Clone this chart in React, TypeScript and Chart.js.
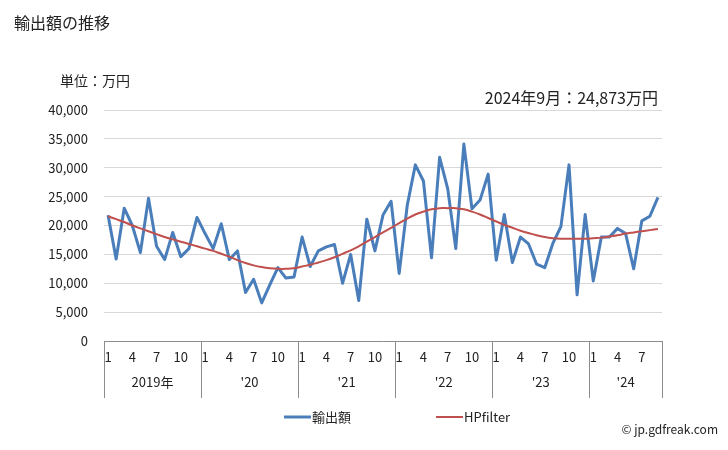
import React, { useEffect, useRef } from "react";
import { Chart, registerables } from "chart.js";

Chart.register(...registerables);

const years = ["2019年", "'20", "'21", "'22", "'23", "'24"];

const monthLabels = [
  "1", "2", "3", "4", "5", "6", "7", "8", "9", "10", "11", "12",
  "1", "2", "3", "4", "5", "6", "7", "8", "9", "10", "11", "12",
  "1", "2", "3", "4", "5", "6", "7", "8", "9", "10", "11", "12",
  "1", "2", "3", "4", "5", "6", "7", "8", "9", "10", "11", "12",
  "1", "2", "3", "4", "5", "6", "7", "8", "9", "10", "11", "12",
  "1", "2", "3", "4", "5", "6", "7", "8", "9",
];

const exportValues = [
  21800, 14200, 23000, 20000, 15300, 24700, 16400, 14100, 18800, 14600, 16000, 21400,
  18600, 16000, 20300, 14100, 15600, 8400, 10700, 6600, 9700, 12700, 10900, 11100,
  18000, 12900, 15600, 16300, 16700, 10000, 15000, 7000, 21100, 15600, 21800, 24200,
  11700, 23500, 30500, 27700, 14400, 31800, 26400, 16000, 34100, 22900, 24400, 28900,
  14000, 21900, 13600, 18000, 16800, 13300, 12700, 16900, 19800, 30500, 8000, 21900,
  10400, 18000, 18000, 19500, 18600, 12500, 20800, 21600, 24873,
];

const hpValues = [
  21600, 21100, 20600, 20000, 19500, 19000, 18500, 18000, 17600, 17200, 16800, 16400,
  16000, 15600, 15100, 14600, 14000, 13500, 13100, 12800, 12600, 12500, 12500, 12600,
  12900, 13200, 13600, 14000, 14500, 15100, 15700, 16400, 17200, 18000, 18800, 19600,
  20400, 21200, 21900, 22400, 22800, 23000, 23000, 23000, 22800, 22400, 21900, 21300,
  20700, 20100, 19600, 19100, 18700, 18300, 18000, 17800, 17700, 17700, 17700, 17700,
  17800, 17900, 18100, 18300, 18600, 18800, 19000, 19200, 19400,
];

const shownMonths = ["1", "4", "7", "10"];

const FONT = '"Noto Sans CJK JP", "Noto Sans", sans-serif';

const yearAxisPlugin = {
  id: "yearAxis",
  afterDraw(chart: any) {
    const { ctx, chartArea } = chart;
    const x = chart.scales.x;
    const half = (x.getPixelForValue(1) - x.getPixelForValue(0)) / 2;
    const starts: number[] = [];
    monthLabels.forEach((m, i) => {
      if (m === "1") starts.push(i);
    });
    const edges = starts.map((i) => x.getPixelForValue(i) - half);
    edges.push(chartArea.right);
    ctx.save();
    ctx.strokeStyle = "#8c8c8c";
    ctx.lineWidth = 1;
    edges.forEach((e) => {
      const px = Math.round(e) + 0.5;
      ctx.beginPath();
      ctx.moveTo(px, chartArea.bottom);
      ctx.lineTo(px, chartArea.bottom + 57);
      ctx.stroke();
    });
    ctx.fillStyle = "#222";
    ctx.font = `13px ${FONT}`;
    ctx.textAlign = "center";
    ctx.textBaseline = "middle";
    years.forEach((y, k) => {
      ctx.fillText(y, (edges[k] + edges[k + 1]) / 2, chartArea.bottom + 41);
    });

    // legend
    const items = [
      { x0: 284, x1: 311, tx: 312 },
      { x0: 436, x1: 463, tx: 464 },
    ];
    const ly = 417;
    chart.data.datasets.forEach((ds: any, k: number) => {
      const it = items[k];
      ctx.strokeStyle = ds.borderColor;
      ctx.lineWidth = ds.borderWidth;
      ctx.beginPath();
      ctx.moveTo(it.x0, ly);
      ctx.lineTo(it.x1, ly);
      ctx.stroke();
      ctx.fillStyle = "#222";
      ctx.textAlign = "left";
      ctx.fillText(ds.label, it.tx, ly);
    });
    ctx.restore();
  },
};

function ChartView() {
  const ref = useRef<HTMLCanvasElement | null>(null);
  useEffect(() => {
    if (!ref.current) return;
    const chart = new Chart(ref.current, {
      type: "line",
      data: {
        labels: monthLabels,
        datasets: [
          {
            label: "輸出額",
            data: exportValues,
            borderColor: "#4a7ebb",
            backgroundColor: "#4a7ebb",
            borderWidth: 3,
            borderJoinStyle: "round",
            pointRadius: 0,
            tension: 0,
            order: 2,
          },
          {
            label: "HPfilter",
            data: hpValues,
            borderColor: "#c0504d",
            backgroundColor: "#c0504d",
            borderWidth: 2,
            borderJoinStyle: "round",
            pointRadius: 0,
            tension: 0.4,
            order: 1,
          },
        ],
      },
      options: {
        animation: false,
        responsive: false,
        layout: { padding: { top: 110, left: 0, right: 66, bottom: 0 } },
        plugins: {
          legend: { display: false },
          tooltip: { enabled: false },
        },
        scales: {
          x: {
            offset: true,
            grid: { display: false, drawTicks: false },
            border: { display: true, color: "#8c8c8c", width: 1 },
            ticks: {
              autoSkip: false,
              maxRotation: 0,
              minRotation: 0,
              padding: 8,
              color: "#222",
              font: { family: FONT, size: 13 },
              callback: (_v: any, i: number) =>
                shownMonths.includes(monthLabels[i]) ? monthLabels[i] : "",
            },
            afterFit: (s: any) => {
              s.height = 109;
            },
          },
          y: {
            min: 0,
            max: 40000,
            grid: { color: "#d9d9d9", drawTicks: false, lineWidth: 1 },
            border: { display: false },
            ticks: {
              stepSize: 5000,
              padding: 16,
              color: "#222",
              font: { family: FONT, size: 13 },
              callback: (v: any) => Number(v).toLocaleString("en-US"),
            },
            afterFit: (s: any) => {
              s.width = 104;
            },
          },
        },
      },
      plugins: [yearAxisPlugin],
    });
    return () => chart.destroy();
  }, []);
  return <canvas ref={ref} width={728} height={450} style={{ display: "block" }} />;
}

export default function App() {
  const txt: React.CSSProperties = {
    position: "absolute",
    fontFamily: FONT,
    color: "#222",
    whiteSpace: "nowrap",
    lineHeight: 1,
  };
  return (
    <div style={{ position: "absolute", left: 0, top: 0, width: 728, height: 450, background: "#fff" }}>
      <ChartView />
      <div style={{ ...txt, left: 14, top: 14, fontSize: 16 }}>輸出額の推移</div>
      <div style={{ ...txt, left: 60, top: 73, fontSize: 14 }}>単位：万円</div>
      <div style={{ ...txt, right: 70, top: 89, fontSize: 16 }}>2024年9月：24,873万円</div>
      <div style={{ ...txt, right: 10, top: 423, fontSize: 12 }}>© jp.gdfreak.com</div>
    </div>
  );
}
